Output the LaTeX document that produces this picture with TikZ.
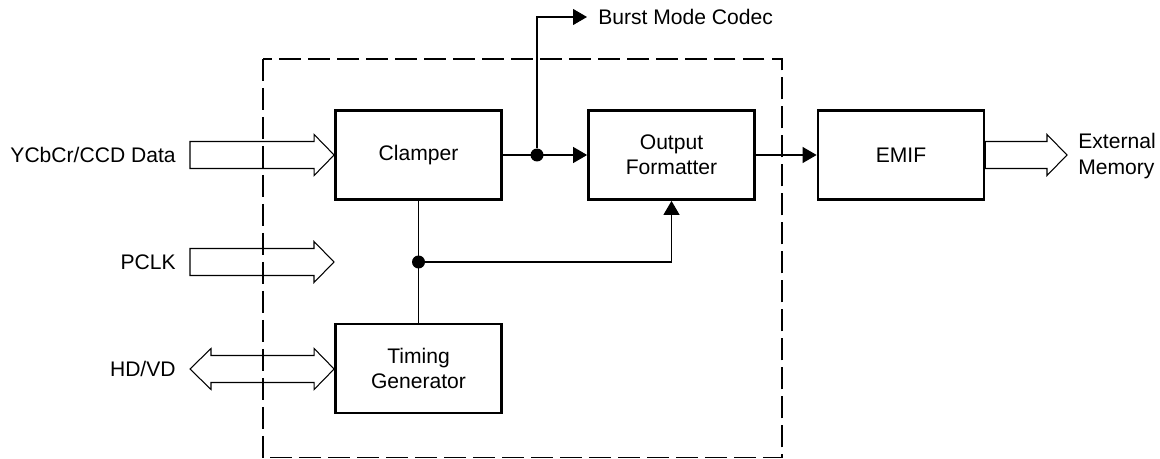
\documentclass[tikz,border=0pt]{standalone}
\usepackage{fontspec}
\setmainfont{Liberation Sans}
\usepackage{tikz}
\usetikzlibrary{
  arrows.meta,
  calc
}

% hollow wide arrows (bus), drawn between two points at the height of the first
\newcommand{\busarrow}[2]{%
  \draw[bus] let \p1=(#1), \p2=(#2) in
    (\x1,\y1+0.27cm) -- (\x2-0.4cm,\y1+0.27cm) -- (\x2-0.4cm,\y1+0.41cm)
    -- (\x2,\y1) -- (\x2-0.4cm,\y1-0.41cm) -- (\x2-0.4cm,\y1-0.27cm)
    -- (\x1,\y1-0.27cm) -- cycle;}
\newcommand{\busarrowboth}[2]{%
  \draw[bus] let \p1=(#1), \p2=(#2) in
    (\x1,\y1) -- (\x1+0.42cm,\y1+0.41cm) -- (\x1+0.42cm,\y1+0.27cm)
    -- (\x2-0.4cm,\y1+0.27cm) -- (\x2-0.4cm,\y1+0.41cm) -- (\x2,\y1)
    -- (\x2-0.4cm,\y1-0.41cm) -- (\x2-0.4cm,\y1-0.27cm)
    -- (\x1+0.42cm,\y1-0.27cm) -- (\x1+0.42cm,\y1-0.41cm) -- cycle;}

\begin{document}
\begin{tikzpicture}[
  x=0.02cm, y=-0.02cm,
  font=\fontsize{12}{14.5}\selectfont,
  block/.style={rectangle, draw, line width=1.6pt, minimum width=3.32cm, minimum height=1.78cm, align=center},
  lbl/.style={inner xsep=0.28cm, align=left},
  dot/.style={circle, fill, inner sep=0pt, minimum size=0.26cm},
  wire/.style={line width=0.6pt},
  sig/.style={line width=0.6pt, -{Triangle[length=0.28cm, width=0.32cm]}},
  bus/.style={line width=0.6pt, line join=miter},
  frame/.style={line width=0.6pt, dash pattern=on 12.5pt off 4pt}
]
  \useasboundingbox (0,0) rectangle (1160,459);

  \draw[frame] (263,59) rectangle (782,457.5);

  \node[block] (clamper) at (418.5,155) {Clamper};
  \node[block] (timing) at (418.5,368.5) {Timing\\Generator};
  \node[block] (formatter) at (671.5,155) {Output\\Formatter};
  \node[block] (emif) at (901,155) {EMIF};

  \node[lbl, anchor=east] (ycc) at (190,155) {YCbCr/CCD Data};
  \node[lbl, anchor=east] (pclk) at (190,262) {PCLK};
  \node[lbl, anchor=east] (hdvd) at (190,369) {HD/VD};
  \coordinate (pclktip) at (334,262);
  \node[lbl, inner xsep=0.22cm, anchor=west] (codec) at (587,17) {Burst Mode Codec};
  \node[lbl, inner xsep=0.22cm, anchor=west] (extmem) at (1067,156) {External\\Memory};

  \node[dot] (split) at (537,155) {};
  \node[dot] (tap) at (418.5,262) {};

  \busarrow{ycc.east}{clamper.west}
  \busarrow{pclk.east}{pclktip}
  \busarrowboth{hdvd.east}{timing.west}
  \busarrow{emif.east}{extmem.west}

  \draw[sig] (clamper.east) -- (formatter.west);
  \draw[sig] (split) |- (codec.west);
  \draw[sig] (formatter.east) -- (emif.west);
  \draw[wire] (clamper.south) -- (timing.north);
  \draw[sig] (tap) -| (formatter.south);
\end{tikzpicture}
\end{document}
